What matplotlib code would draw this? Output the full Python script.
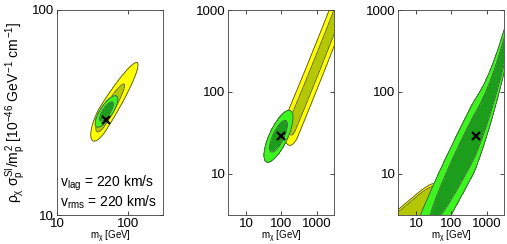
import numpy as np
import matplotlib
matplotlib.use('Agg')
import matplotlib.pyplot as plt

plt.rcParams['font.family'] = ['Liberation Sans', 'DejaVu Sans']
plt.rcParams['mathtext.fontset'] = 'custom'
plt.rcParams['mathtext.rm'] = 'Liberation Sans'
plt.rcParams['mathtext.it'] = 'Liberation Sans'
plt.rcParams['mathtext.sf'] = 'Liberation Sans'

# axis ranges: WIMP mass [GeV] and rho*sigma/m_p^2 [1e-46 GeV^-1 cm^-1]
xlims = [(10, 316), (3.16, 3162), (3.16, 3162)]
ylims = [(10, 100), (3.16, 1000), (3.16, 1000)]
xticks = [[10, 100], [10, 100, 1000], [10, 100, 1000]]
yticks = [[10, 100], [10, 100, 1000], [10, 100, 1000]]

# benchmark points (the black x)
true_mass = [50, 100, 500]
true_sig = [29, 29, 29]

# credible regions, in log10 space:
# (lx0, ly0, slope, upper bend, half-length below, half-length above,
#  half-width, narrowing towards high mass)
regA = [  # yellow / olive
    (1.66, 1.475, 0.54, 0.0, 0.072, 0.195, 0.032, 0.0),
    (2.32, 1.601, 1.033, 0.03, 0.10, 100.0, 0.148, 0.0),
    (1.20, 0.44, 0.36, 0.0, 100.0, 0.45, 0.19, 0.0),
]
regB = [  # light / dark green
    (1.70, 1.505, 0.40, 0.0, 0.064, 0.064, 0.020, 0.0),
    (1.92, 1.46, 0.70, 0.0, 0.16, 0.16, 0.09, 0.0),
    (2.65, 1.46, 0.85, 0.45, 0.85, 100.0, 0.176, 0.265),
]
# (inner, outer) contour levels of each region
levA = [(2.3, 6.18), (1.0, 4.0), (3.4, 4.0)]
levB = [(2.3, 6.18), (2.3, 6.18), (2.3, 6.18)]
colA = ['#b3c800', '#ffff00']
colB = ['#1c9e1c', '#3cf51e']

vtext = '$\\mathregular{v_{lag}}$ = 220 km/s\n$\\mathregular{v_{rms}}$ = 220 km/s'
ylab = '$\\rho_\\chi\\ \\sigma_p^{SI}/m_p^2\\ [10^{-46}\\ GeV^{-1}\\ cm^{-1}]$'
xlab = '$m_\\chi$ [GeV]'


def chi2(lx, ly, c):
    lx0, ly0, s, k, a_lo, a_hi, w, g = c
    d = lx - lx0
    up = np.maximum(d, 0)
    v = ly - (ly0 + s * d + k * up ** 2)
    w_eff = w * 10 ** (-g * up)
    # position along the ridge, measured in log-mass units
    u = (d + s * (ly - ly0)) / (1 + s ** 2)
    t = np.where(u < 0, u / a_lo, u / a_hi)
    return (v / w_eff) ** 2 + t ** 2


def draw_region(ax, lx, ly, c, lev, cols, z0):
    z = chi2(lx, ly, c)
    ax.contourf(10 ** lx, 10 ** ly, z, levels=[0, lev[0], lev[1]], colors=cols,
                zorder=z0)
    ax.contour(10 ** lx, 10 ** ly, z, levels=list(lev), colors='0.3',
               linewidths=0.6, zorder=z0 + 0.1)


fig = plt.figure(figsize=(5.07, 2.44), dpi=100)
lefts = [57, 228.3, 398.3]
for i in range(3):
    ax = fig.add_axes([lefts[i] / 507, 29 / 244, 106 / 507, 205 / 244])
    gx = np.linspace(np.log10(xlims[i][0]), np.log10(xlims[i][1]), 400)
    gy = np.linspace(np.log10(ylims[i][0]), np.log10(ylims[i][1]), 400)
    lx, ly = np.meshgrid(gx, gy)
    draw_region(ax, lx, ly, regA[i], levA[i], colA, 1.0)
    draw_region(ax, lx, ly, regB[i], levB[i], colB, 1.5)
    ax.plot(true_mass[i], true_sig[i], 'x', color='k', ms=6, mew=1.6, zorder=3)
    ax.set_xscale('log')
    ax.set_yscale('log')
    ax.set_xlim(xlims[i])
    ax.set_ylim(ylims[i])
    ax.set_xticks(xticks[i])
    ax.set_xticklabels([str(t) for t in xticks[i]])
    ax.set_yticks(yticks[i])
    ax.set_yticklabels([str(t) for t in yticks[i]])
    ax.minorticks_off()
    ax.tick_params(direction='in', length=3, width=0.5, labelsize=9.5, pad=2,
                   top=True, right=True)
    for sp in ax.spines.values():
        sp.set_linewidth(0.6)
        sp.set_color('0.25')
    ax.set_xlabel(xlab, fontsize=7, labelpad=-0.9)
    if i == 0:
        ax.set_ylabel(ylab, fontsize=10, labelpad=3)
        ax.text(0.03, 0.02, vtext, transform=ax.transAxes, fontsize=10,
                va='bottom', ha='left', linespacing=1.05)

fig.savefig('out.png', dpi=100)
